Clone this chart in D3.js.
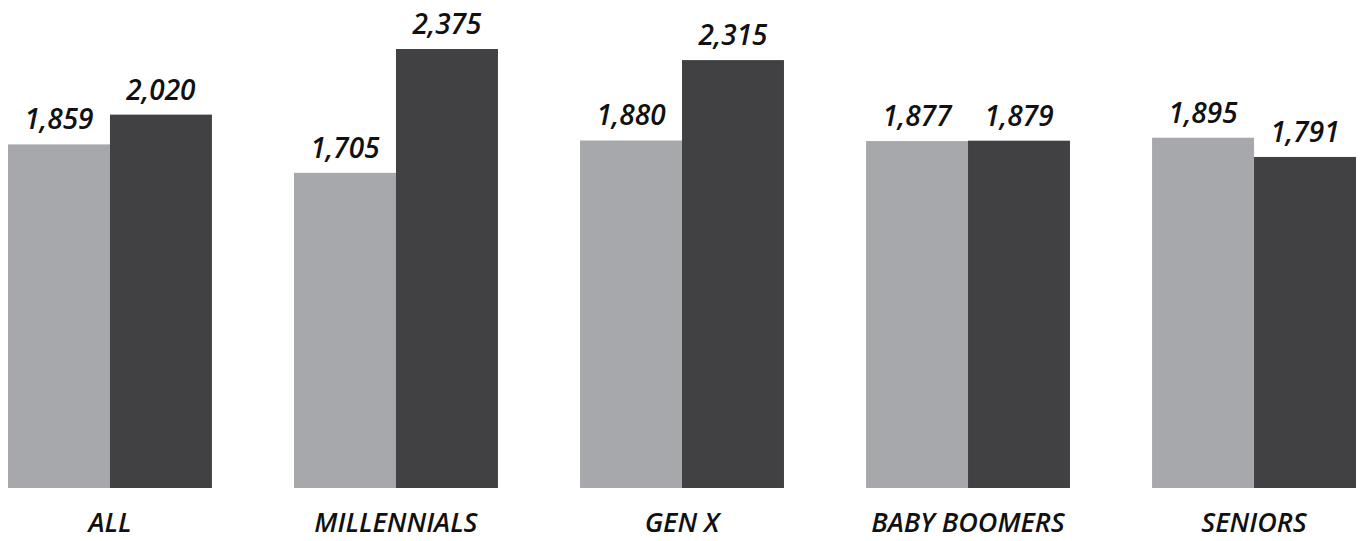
<!DOCTYPE html>
<html>
<head>
<meta charset="utf-8">
<script src="https://cdn.jsdelivr.net/npm/d3@7"></script>
<style>
  body { margin: 0; background: #fff; }
  text { font-family: "Open Sans", sans-serif; font-style: italic; font-weight: 600; }
</style>
</head>
<body>
<div id="chart"></div>
<script>
// data
var categories = ["ALL", "MILLENNIALS", "GEN X", "BABY BOOMERS", "SENIORS"];
var seriesKeys = ["before", "after"];
var valuesBefore = [1859, 1705, 1880, 1877, 1895];
var valuesAfter = [2020, 2375, 2315, 1879, 1791];
var seriesColors = ["#a7a8ab", "#414042"];

var svgWidth = 1360;
var svgHeight = 541;

var svg = d3.select("#chart")
  .append("svg")
  .attr("width", svgWidth)
  .attr("height", svgHeight);

var rows = categories.map(function(c, i) {
  return { cat: c, values: [valuesBefore[i], valuesAfter[i]] };
});

// group scale: 5 groups, bars touch inside a group
var x0 = d3.scaleBand()
  .domain(categories)
  .range([8, 1356])
  .paddingInner(0.287)
  .paddingOuter(0);

var x1 = d3.scaleBand()
  .domain(seriesKeys)
  .range([0, x0.bandwidth()])
  .padding(0);

var baseline = 488;
var y = d3.scaleLinear()
  .domain([0, 2375])
  .range([baseline, 49]);

var groups = svg.selectAll("g.group")
  .data(rows)
  .enter()
  .append("g")
  .attr("class", "group")
  .attr("transform", d => `translate(${x0(d.cat)},0)`);

groups.selectAll("rect")
  .data(d => d.values.map((v, j) => ({ key: seriesKeys[j], value: v, idx: j })))
  .enter()
  .append("rect")
  .attr("x", d => x1(d.key))
  .attr("y", d => y(d.value))
  .attr("width", x1.bandwidth())
  .attr("height", d => baseline - y(d.value))
  .attr("fill", d => seriesColors[d.idx]);

// value labels above each bar
groups.selectAll("text.value")
  .data(d => d.values.map((v, j) => ({ key: seriesKeys[j], value: v })))
  .enter()
  .append("text")
  .attr("class", "value")
  .attr("x", d => x1(d.key) + x1.bandwidth() / 2)
  .attr("y", d => y(d.value) - 15)
  .attr("text-anchor", "middle")
  .attr("font-size", "28px")
  .attr("fill", "#111")
  .text(d => d3.format(",")(d.value));

// category labels under the groups
svg.append("g").selectAll("text")
  .data(categories)
  .enter()
  .append("text")
  .attr("x", d => x0(d) + x0.bandwidth() / 2)
  .attr("y", 532)
  .attr("text-anchor", "middle")
  .attr("font-size", "27px")
  .attr("fill", "#111")
  .text(d => d);
</script>
</body>
</html>
